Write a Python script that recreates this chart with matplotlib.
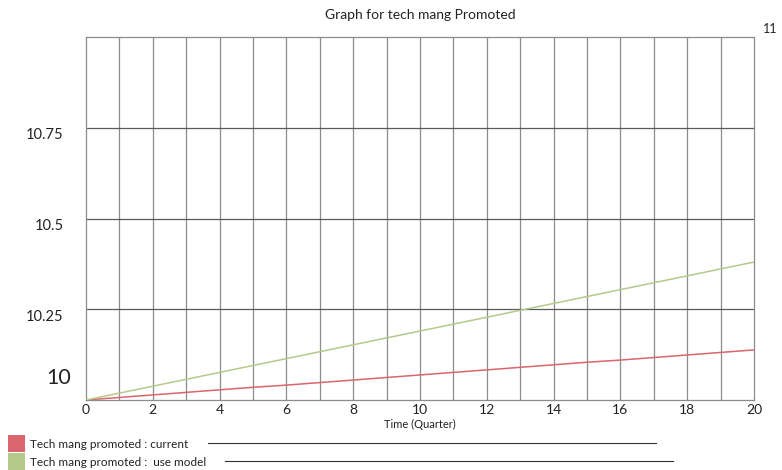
import matplotlib.pyplot as plt
from matplotlib.patches import Rectangle
from matplotlib.lines import Line2D
import matplotlib.transforms as mtransforms

plt.rcParams['font.family'] = ['Lato', 'DejaVu Sans']

quarters = list(range(0, 21))
current = [10.0, 10.007, 10.014, 10.021, 10.028, 10.035, 10.041, 10.048, 10.055, 10.062, 10.069,
           10.076, 10.083, 10.090, 10.097, 10.104, 10.110, 10.117, 10.124, 10.131, 10.138]
use_model = [10.0, 10.019, 10.038, 10.057, 10.076, 10.095, 10.114, 10.133, 10.152, 10.171, 10.190,
             10.209, 10.228, 10.247, 10.266, 10.285, 10.304, 10.323, 10.342, 10.361, 10.380]
y_ticks = [10, 10.25, 10.5, 10.75]
y_labels = ['10', '10.25', '10.5', '10.75']
x_ticks = list(range(0, 21, 2))
legend_names = ['Tech mang promoted : current', 'Tech mang promoted :  use model']
colors = ['#d9666f', '#b5c98a']

fig = plt.figure(figsize=(7.82, 4.7), dpi=100)
ax = fig.add_axes([86 / 782, 1 - 400 / 470, 668 / 782, 363 / 470])

ax.plot(quarters, current, color=colors[0], lw=1.1, zorder=3)
ax.plot(quarters, use_model, color=colors[1], lw=1.1, zorder=3)

ax.set_xlim(0, 20)
ax.set_ylim(10, 11)

# vertical grid every quarter, labels every 2
for q in range(1, 20):
    ax.axvline(q, color='#8c8c8c', lw=0.9, zorder=1)
for yv in y_ticks[1:]:
    ax.axhline(yv, color='#5a5a5a', lw=0.9, zorder=1)

ax.set_xticks(x_ticks)
ax.set_xticklabels([str(x) for x in x_ticks], fontsize=10, color='#222222')
ax.set_yticks(y_ticks)
ax.set_yticklabels(y_labels, fontsize=10.5, color='#222222')
ax.tick_params(length=0, pad=3)
ax.tick_params(axis='y', pad=16)

# shift y labels a bit down, the big "10" up and closer to the axis
for lab, yv in zip(ax.get_yticklabels(), y_ticks):
    if yv == 10:
        lab.set_fontsize(15.5)
        lab.set_transform(lab.get_transform() + mtransforms.ScaledTranslation(7 / 100, 24 / 100, fig.dpi_scale_trans))
    else:
        lab.set_transform(lab.get_transform() + mtransforms.ScaledTranslation(0, -6 / 100, fig.dpi_scale_trans))

for s in ax.spines.values():
    s.set_color('#8c8c8c')
    s.set_linewidth(0.9)

ax.set_xlabel('Time (Quarter)', fontsize=8, labelpad=2, color='#222222')
ax.set_title('Graph for tech mang Promoted', fontsize=10, pad=13, color='#222222')
ax.text(20.27, 11.005, '11', fontsize=9, color='#222222', ha='left', va='bottom')

# legend drawn below the chart
rows = [(435, 208, 656), (453, 225, 673)]
for (ytop, x0, x1), name, c in zip(rows, legend_names, colors):
    fig.add_artist(Rectangle((8 / 782, 1 - (ytop + 17) / 470), 17 / 782, 17 / 470,
                             transform=fig.transFigure, facecolor=c, edgecolor='none'))
    fig.text(30 / 782, 1 - (ytop + 9) / 470, name, fontsize=8.5, va='center', color='#222222')
    fig.add_artist(Line2D([x0 / 782, x1 / 782], [1 - (ytop + 8) / 470] * 2,
                          transform=fig.transFigure, color='#333333', lw=0.8))

plt.savefig('out.png', dpi=100)
